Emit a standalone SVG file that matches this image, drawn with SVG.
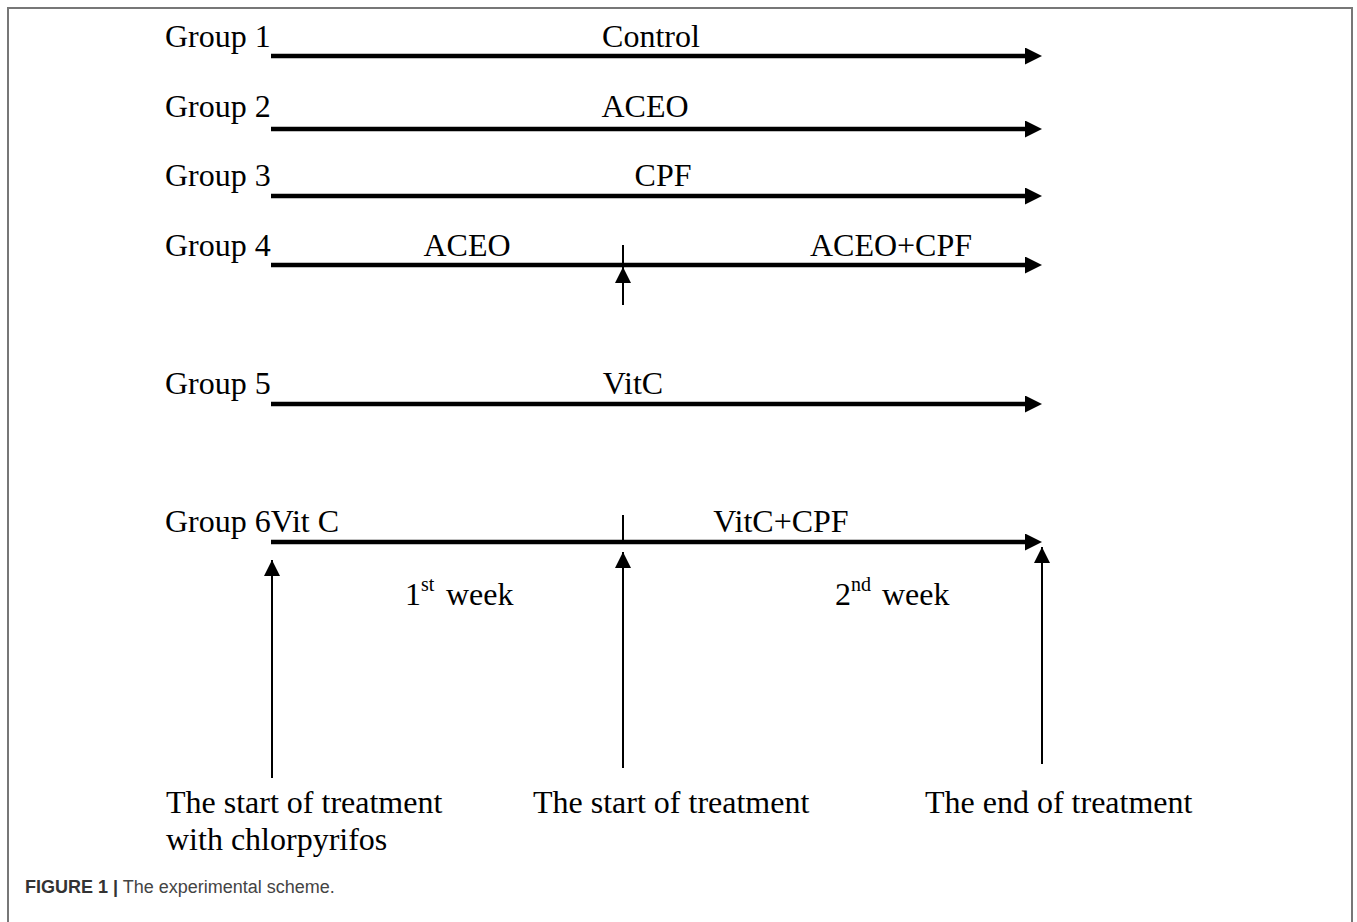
<svg xmlns="http://www.w3.org/2000/svg" width="1357" height="922" viewBox="0 0 1357 922">
<style>
.t{font-family:"Liberation Serif","Times New Roman",serif;font-size:32px;fill:#000}
.sup{font-size:20px}
.thick{stroke:#000;stroke-width:4.5;fill:none}
.thin{stroke:#000;stroke-width:2;fill:none}
.cap{font-family:"Liberation Sans",Arial,sans-serif;font-size:18px;fill:#444}
</style>
<defs>
<marker id="ah" markerUnits="userSpaceOnUse" markerWidth="18" markerHeight="18" viewBox="0 0 18 18" refX="5" refY="8.5" orient="auto">
<path d="M0,0 L17,8.5 L0,17 z" fill="#000"/>
</marker>
<marker id="au" markerUnits="userSpaceOnUse" markerWidth="17" markerHeight="17" viewBox="0 0 17 17" refX="16" refY="8" orient="auto">
<path d="M0,0 L16,8 L0,16 z" fill="#000"/>
</marker>
</defs>
<rect width="1357" height="922" fill="#fff"/>
<path d="M8,922 V8 H1352 V922" fill="none" stroke="#777" stroke-width="2"/>

<g id="group1"><text class="t" x="165" y="47">Group 1</text><text class="t" x="651" y="47" text-anchor="middle">Control</text></g>
<g id="group2"><text class="t" x="165" y="117">Group 2</text><text class="t" x="645" y="117" text-anchor="middle">ACEO</text></g>
<g id="group3"><text class="t" x="165" y="186">Group 3</text><text class="t" x="663" y="186" text-anchor="middle">CPF</text></g>
<g id="group4"><text class="t" x="165" y="256">Group 4</text><text class="t" x="467" y="256" text-anchor="middle">ACEO</text><text class="t" x="891" y="256" text-anchor="middle">ACEO+CPF</text></g>
<g id="group5"><text class="t" x="165" y="394">Group 5</text><text class="t" x="633" y="394" text-anchor="middle">VitC</text></g>
<g id="group6"><text class="t" x="165" y="532">Group 6Vit C</text><text class="t" x="781" y="532" text-anchor="middle">VitC+CPF</text></g>
<g id="weeks">
<text class="t" y="605"><tspan x="405">1</tspan><tspan class="sup" x="421" dy="-14">st</tspan><tspan x="446" dy="14">week</tspan></text>
<text class="t" y="605"><tspan x="835">2</tspan><tspan class="sup" x="851" dy="-14">nd</tspan><tspan x="882" dy="14">week</tspan></text>
</g>
<g id="labels">
<text class="t" x="166" y="813">The start of treatment</text>
<text class="t" x="166" y="850">with chlorpyrifos</text>
<text class="t" x="533" y="813">The start of treatment</text>
<text class="t" x="925" y="813">The end of treatment</text>
</g>
<g id="caption"><text class="cap" x="25" y="893"><tspan font-weight="bold" fill="#333">FIGURE 1 |</tspan> The experimental scheme.</text></g>

<g id="connectors">
<line class="thick" x1="271" y1="56" x2="1030" y2="56" marker-end="url(#ah)"/>
<line class="thick" x1="271" y1="129" x2="1030" y2="129" marker-end="url(#ah)"/>
<line class="thick" x1="271" y1="196" x2="1030" y2="196" marker-end="url(#ah)"/>
<line class="thick" x1="271" y1="265" x2="1030" y2="265" marker-end="url(#ah)"/>
<line class="thick" x1="271" y1="404" x2="1030" y2="404" marker-end="url(#ah)"/>
<line class="thick" x1="271" y1="542" x2="1030" y2="542" marker-end="url(#ah)"/>
<line class="thin" x1="623" y1="245" x2="623" y2="267"/>
<line class="thin" x1="623" y1="305" x2="623" y2="267" marker-end="url(#au)"/>
<line class="thin" x1="623" y1="515" x2="623" y2="542"/>
<line class="thin" x1="272" y1="778" x2="272" y2="560" marker-end="url(#au)"/>
<line class="thin" x1="623" y1="768" x2="623" y2="552" marker-end="url(#au)"/>
<line class="thin" x1="1042" y1="764" x2="1042" y2="547" marker-end="url(#au)"/>
</g>
</svg>
